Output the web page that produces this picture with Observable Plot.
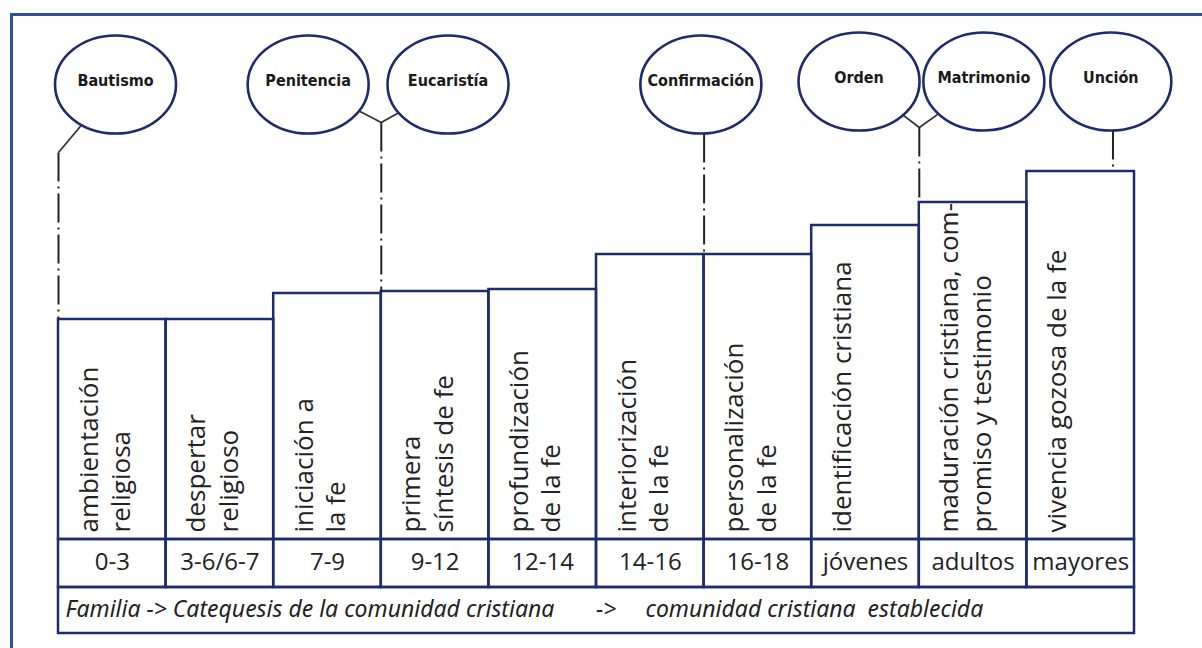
<!DOCTYPE html>
<html><head><meta charset="utf-8">
<script src="https://cdn.jsdelivr.net/npm/d3@7"></script>
<script src="https://cdn.jsdelivr.net/npm/@observablehq/plot@0.6"></script>
<style>
html,body{margin:0;padding:0;background:#fff;}
#wrap{position:relative;width:1202px;height:648px;overflow:hidden;}
#frame{position:absolute;left:10px;top:13px;width:1200px;height:640px;border-top:3px solid #2f4f9f;border-left:3px solid #2f4f9f;}
#chart{position:absolute;left:0;top:0;}
</style></head><body>
<div id="wrap"><div id="frame"></div><div id="chart"></div></div>
<script>
// ---- data ----
const stages = [
  "ambientación\nreligiosa",
  "despertar\nreligioso",
  "iniciación a\nla fe",
  "primera\nsíntesis de fe",
  "profundización\nde la fe",
  "interiorización\nde la fe",
  "personalización\nde la fe",
  "identificación cristiana",
  "maduración cristiana, com-\npromiso y testimonio",
  "vivencia gozosa de la fe"
];
const levels = [220, 220, 246, 248, 250, 285, 285, 314, 337, 368];
const ages = ["0-3", "3-6/6-7", "7-9", "9-12", "12-14", "14-16", "16-18", "jóvenes", "adultos", "mayores"];
const sacraments = ["Bautismo", "Penitencia", "Eucaristía", "Confirmación", "Orden", "Matrimonio", "Unción"];
const sacramentAt = [0.53, 2.32, 3.62, 5.97, 7.44, 8.60, 9.78];
const sacramentLink = [0, 3, 3, 6, 8, 8, 9.8];
const banner = ["Familia -> Catequesis de la comunidad cristiana", "->", "comunidad cristiana  establecida"];

// ---- tables built from the arrays ----
const rows = stages.map((label, i) => ({i, label, level: levels[i], age: ages[i]}));
const ovalY = [455, 455, 455, 455, 458, 458, 458];
const junctionY = [387, 417, 417, null, 412, 412, null];
const RX = 60.5, RY = 49; // oval radii in px (1 y-unit = 1px, 1 x-unit = 107.6px)
const XU = 107.6;
function barTopAt(link) {
  const c = [];
  if (Number.isInteger(link)) { if (link - 1 >= 0) c.push(levels[link - 1]); if (link < levels.length) c.push(levels[link]); }
  else c.push(levels[Math.floor(link)]);
  return Math.max(...c);
}
const sac = sacraments.map((name, k) => {
  const cx = sacramentAt[k], cy = ovalY[k], lx = sacramentLink[k];
  let jy = junctionY[k];
  let diag = null;
  if (jy == null) {
    jy = cy - RY;
  } else {
    const dxp = (lx - cx) * XU, dyp = (jy - cy);
    const t = 1 / Math.sqrt((dxp / RX) ** 2 + (dyp / RY) ** 2);
    diag = {x1: cx + (dxp * t) / XU, y1: cy + dyp * t, x2: lx, y2: jy};
  }
  return {name, cx, cy, lx, jy, top: barTopAt(lx), diag};
});

const ellipse = {
  draw(ctx, size) {
    const r = Math.sqrt(size / Math.PI);
    const rx = r * RX / RY, ry = r, k = 0.5523;
    ctx.moveTo(rx, 0);
    ctx.bezierCurveTo(rx, ry * k, rx * k, ry, 0, ry);
    ctx.bezierCurveTo(-rx * k, ry, -rx, ry * k, -rx, 0);
    ctx.bezierCurveTo(-rx, -ry * k, -rx * k, -ry, 0, -ry);
    ctx.bezierCurveTo(rx * k, -ry, rx, -ry * k, rx, 0);
    ctx.closePath();
  }
};

const navy = "#1f2b6b";
const ink = "#222";
const bodyFont = "'Open Sans', sans-serif";
const bannerFont = "'Noto Sans', sans-serif";

const chart = Plot.plot({
  width: 1202, height: 648,
  marginLeft: 58, marginRight: 68, marginTop: 0, marginBottom: 15,
  style: {background: "transparent"},
  x: {type: "linear", domain: [0, 10], axis: null},
  y: {type: "linear", domain: [-94, 539], axis: null},
  marks: [
    // staircase columns
    Plot.rect(rows, {x1: d => d.i, x2: d => d.i + 1, y1: 0, y2: "level", stroke: navy, strokeWidth: 2.5, fill: "none"}),
    // age row
    Plot.rect(rows, {x1: d => d.i, x2: d => d.i + 1, y1: -48, y2: 0, stroke: navy, strokeWidth: 2.5, fill: "none"}),
    // banner
    Plot.rect([0], {x1: 0, x2: 10, y1: -94, y2: -48, stroke: navy, strokeWidth: 2.5, fill: "none"}),
    // rotated stage labels
    Plot.text(rows, {x: "i", y: 7, dx: 16, text: "label", rotate: -90, textAnchor: "start", lineAnchor: "top",
      lineHeight: 1.25, fontSize: 26, fontFamily: bodyFont, fill: ink}),
    // ages
    Plot.text(rows, {x: d => d.i + 0.5, y: -23, text: "age", fontSize: 24, fontFamily: bodyFont, fill: ink}),
    // banner text
    Plot.text([banner[0]], {x: 0.065, y: -70, text: d => d, textAnchor: "start", fontSize: 23, fontStyle: "italic", fontFamily: bannerFont, fill: ink}),
    Plot.text([banner[1]], {x: 5.09, y: -70, text: d => d, fontSize: 23, fontStyle: "italic", fontFamily: bannerFont, fill: ink}),
    Plot.text([banner[2]], {x: 5.455, y: -70, text: d => d, textAnchor: "start", fontSize: 23, fontStyle: "italic", fontFamily: bannerFont, fill: ink}),
    // connectors: diagonal
    Plot.link(sac.filter(d => d.diag), {x1: d => d.diag.x1, y1: d => d.diag.y1, x2: d => d.diag.x2, y2: d => d.diag.y2, stroke: "#333", strokeWidth: 1.8}),
    // connectors: vertical dash-dot
    Plot.link(sac.filter((d, k) => sac.findIndex(s => s.lx === d.lx) === k), {x1: "lx", x2: "lx", y1: "jy", y2: "top", stroke: "#222", strokeWidth: 2, strokeDasharray: "29,5,2,5"}),
    // ovals
    Plot.dot(sac, {x: "cx", y: "cy", r: RY, symbol: ellipse, stroke: navy, strokeWidth: 2.6, fill: "white"}),
    Plot.text(sac, {x: "cx", y: d => d.cy + 4, text: "name", fontSize: 16, fontWeight: "bold", fontFamily: "'Liberation Sans Narrow', 'DejaVu Sans Condensed', sans-serif", fill: "#1a1a1a"})
  ]
});
document.getElementById("chart").appendChild(chart);
</script>
</body></html>
